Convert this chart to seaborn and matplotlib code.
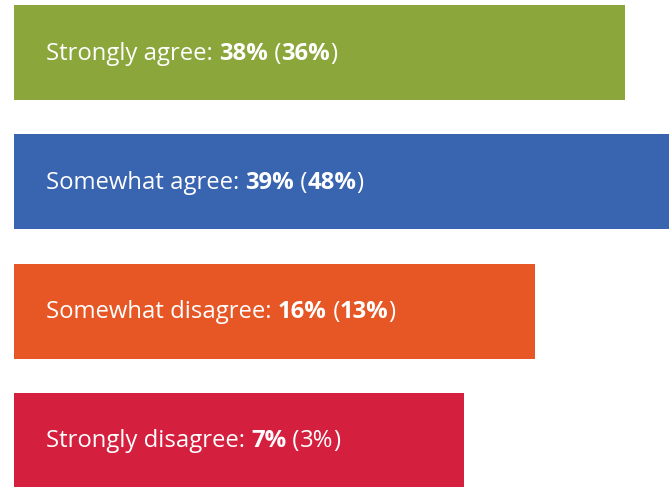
import matplotlib
matplotlib.use("Agg")
import matplotlib.pyplot as plt
import matplotlib.transforms as mtransforms
import pandas as pd
import seaborn as sns

# Survey responses: share this year and (last year)
categories = ["Strongly agree", "Somewhat agree", "Somewhat disagree", "Strongly disagree"]
share_now = [38, 39, 16, 7]
share_prev = [36, 48, 13, 3]
prev_bold = [True, True, True, False]
# Bar extent on a 0-100 track
bar_length = [93.3, 100.0, 79.6, 68.7]
colors = ["#8BA63B", "#3964AF", "#E65725", "#D51F3E"]

df = pd.DataFrame({"category": categories, "length": bar_length})

sns.set_theme(style="white")
plt.rcParams["font.family"] = ["Open Sans", "DejaVu Sans"]

W, H, DPI = 672, 487, 100
fig = plt.figure(figsize=(W / DPI, H / DPI), dpi=DPI)
ax = fig.add_axes([0, 0, 1, 1])

sns.barplot(data=df, y="category", x="length", hue="category", palette=colors,
            order=categories, hue_order=categories, legend=False,
            width=95 / 129, orient="h", saturation=1, linewidth=0, ax=ax)

px_per_unit = (669 - 13.5) / 100
ax.set_xlim(-13.5 / px_per_unit, (W - 13.5) / px_per_unit)
ax.set_ylim(3 + (H - 440) / 129, -53 / 129)
ax.set_axis_off()

renderer = fig.canvas.get_renderer()
fs = 17.2
for i, (cat, a, b, bb_) in enumerate(zip(categories, share_now, share_prev, prev_bold)):
    pieces = [(f"{cat}: ", "normal"), (f"{a}%", "bold"), (" (", "normal"),
              (f"{b}%", "bold" if bb_ else "normal"), (")", "normal")]
    dx = 32.5
    for s, w in pieces:
        tr = mtransforms.offset_copy(ax.transData, fig=fig, x=dx, y=-7, units="dots")
        t = ax.text(0, i, s, transform=tr, color="white", fontsize=fs,
                    fontweight=w, va="baseline", ha="left")
        bb = t.get_window_extent(renderer)
        dx += bb.width

fig.savefig("out.png", dpi=DPI, facecolor="white")
